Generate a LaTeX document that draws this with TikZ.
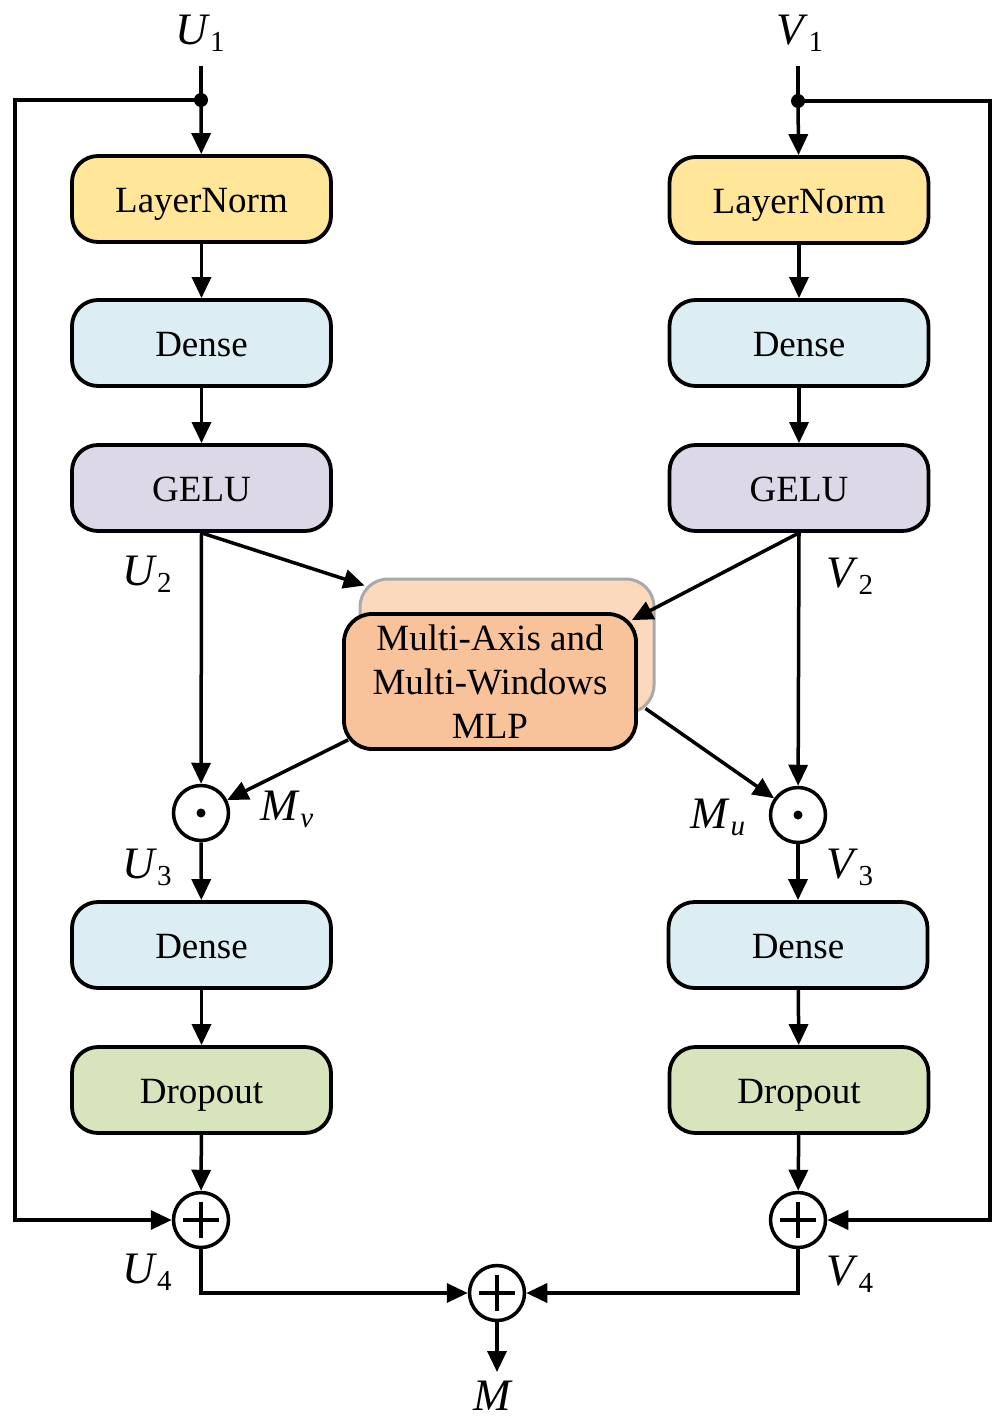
\documentclass[tikz,border=0pt]{standalone}
\usepackage{fontspec}
\setmainfont{Liberation Serif}
\usetikzlibrary{arrows.meta,calc}
\definecolor{lnc}{HTML}{FFE699}
\definecolor{dnc}{HTML}{DCEEF4}
\definecolor{gec}{HTML}{DDD8E8}
\definecolor{drc}{HTML}{D8E4BC}
\definecolor{mlpf}{HTML}{F8C39B}
\definecolor{mlpb}{HTML}{FAD9BD}
\definecolor{mlpg}{HTML}{A9A9A9}
\newcommand\lbl[2]{\fontsize{45}{45}\selectfont\textit{#1}\raisebox{-7pt}{\fontsize{29}{29}\selectfont #2}}
\begin{document}
\begin{tikzpicture}[x=1pt,y=-1pt,
 box/.style={draw,line width=3.8pt,rounded corners=26pt,minimum width=259pt,minimum height=86pt,inner sep=0pt,text height=26pt,text depth=0pt,font=\fontsize{37}{37}\selectfont},
 arr/.style={line width=3.5pt,-{Triangle[length=21pt,width=19pt]}},
 ln/.style={line width=3.5pt},
 opc/.style={circle,draw,line width=3.5pt,minimum size=55pt,inner sep=0pt},
 plusop/.style={opc,path picture={\draw[line width=3.5pt] ([xshift=-18pt]path picture bounding box.center) -- ([xshift=18pt]path picture bounding box.center) ([yshift=-18pt]path picture bounding box.center) -- ([yshift=18pt]path picture bounding box.center);}},
 dotop/.style={opc,path picture={\fill (path picture bounding box.center) circle (4.5pt);}},
 jdot/.style={circle,fill,inner sep=0pt,minimum size=14pt},
 lab/.style={inner sep=0pt}]
\useasboundingbox (0,0) rectangle (992,1418);

% labels
\node[lab] (U1) at (200,33) {\lbl{U}{1}};
\node[lab] (V1) at (800,33) {\lbl{V}{1}};
\node[lab] (U2) at (147,574) {\lbl{U}{2}};
\node[lab] (V2) at (850,576) {\lbl{V}{2}};
\node[lab] (Mv) at (287,809) {\lbl{M}{\textit{v}}};
\node[lab] (Mu) at (718,817) {\lbl{M}{\textit{u}}};
\node[lab] (U3) at (147,867) {\lbl{U}{3}};
\node[lab] (V3) at (850,867) {\lbl{V}{3}};
\node[lab] (U4) at (147,1272) {\lbl{U}{4}};
\node[lab] (V4) at (850,1274) {\lbl{V}{4}};
\node[lab] (M) at (493,1396) {\fontsize{45}{45}\selectfont\textit{M}};

% left column
\node[box,fill=lnc] (lnL) at (201.5,199) {LayerNorm};
\node[box,fill=dnc] (dnL) at (201.5,343) {Dense};
\node[box,fill=gec] (geL) at (201.5,488) {GELU};
\node[box,fill=dnc] (dn2L) at (201.5,945) {Dense};
\node[box,fill=drc] (drL) at (201.5,1090) {Dropout};
% right column
\node[box,fill=lnc] (lnR) at (799,200) {LayerNorm};
\node[box,fill=dnc] (dnR) at (799,343) {Dense};
\node[box,fill=gec] (geR) at (799,488) {GELU};
\node[box,fill=dnc] (dn2R) at (798,945) {Dense};
\node[box,fill=drc] (drR) at (799,1090) {Dropout};

% MLP
\node[draw=mlpg,fill=mlpb,line width=3pt,rounded corners=28pt,minimum width=294pt,minimum height=134pt] (mlpb) at (507,646) {};
\node[draw,fill=mlpf,line width=3.8pt,rounded corners=28pt,minimum width=292pt,minimum height=135pt,inner sep=0pt,align=center,font=\fontsize{37}{44}\selectfont] (mlp) at (490,681.5) {Multi-Axis and\\Multi-Windows\\MLP};

% operators
\node[dotop] (odL) at (201,813) {};
\node[dotop] (odR) at (798,815) {};
\node[plusop] (plL) at (201,1220) {};
\node[plusop] (plR) at (798,1220) {};
\node[plusop] (plC) at (497,1293) {};

% junctions
\node[jdot] (jL) at (201,100) {};
\node[jdot] (jR) at (798,101) {};
\coordinate (inL) at (201,66);
\coordinate (inR) at (798,66);
\coordinate (cL1) at (15,100);
\coordinate (cL2) at (15,1220);
\coordinate (cR1) at (990,101);
\coordinate (cR2) at (990,1220);
\coordinate (mout) at (497,1372);

% connectors
\draw[ln] (inL) -- (jL.center);
\draw[ln] (inR) -- (jR.center);
\draw[arr] (jL.center) -- (lnL);
\draw[arr] (jR.center) -- (lnR);
\draw[arr] (lnL) -- (dnL);
\draw[arr] (dnL) -- (geL);
\draw[arr] (lnR) -- (dnR);
\draw[arr] (dnR) -- (geR);
\draw[arr] (geL.south) -- (odL);
\draw[arr] (geR.south) -- (odR);
\draw[arr] (geL.south) -- ($(mlpb.north west)+(6,8)$);
\draw[arr] (geR.south) -- ($(mlp.north east)+(-6,8)$);
\draw[arr] ($(mlp.south west)+(6,-11)$) -- (odL);
\draw[arr] ($(mlpb.south east)+(-10,-6)$) -- (odR);
\draw[arr] (odL) -- (dn2L);
\draw[arr] (odR) -- (dn2R);
\draw[arr] (dn2L) -- (drL);
\draw[arr] (dn2R) -- (drR);
\draw[arr] (drL) -- (plL);
\draw[arr] (drR) -- (plR);
\draw[arr] (jL.center) -- (cL1) -- (cL2) -- (plL);
\draw[arr] (jR.center) -- (cR1) -- (cR2) -- (plR);
\draw[arr] (plL) |- (plC);
\draw[arr] (plR) |- (plC);
\draw[arr] (plC) -- (mout);
\end{tikzpicture}
\end{document}
